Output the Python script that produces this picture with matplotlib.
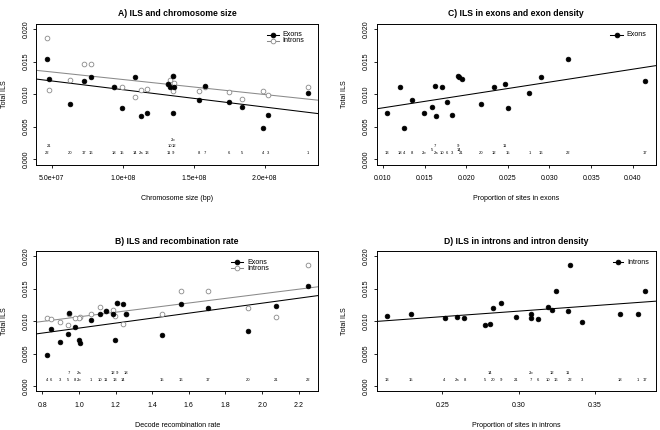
import numpy as np
import matplotlib
matplotlib.use("Agg")
import matplotlib.pyplot as plt

plt.rcParams['font.family'] = ['Liberation Sans', 'DejaVu Sans']

# ---------------- data ----------------
chrom = ["1", "2a", "2b", "3", "4", "5", "6", "7", "8", "9", "10", "11", "12",
         "13", "14", "15", "16", "17", "18", "20", "21", "22"]
chrom_size = [2.303e8, 1.129e8, 1.352e8, 2.0235e8, 1.9906e8, 1.8427e8, 1.7465e8,
              1.5775e8, 1.5376e8, 1.3521e8, 1.3333e8, 1.3216e8, 1.3638e8, 1.1714e8,
              1.0869e8, 0.9953e8, 0.777e8, 0.73e8, 0.939e8, 0.6268e8, 0.4836e8, 0.4648e8]
rec_rate = [1.064, 1.003, 1.0, 0.896, 0.824, 0.942, 0.849, 0.947, 0.98, 1.205, 1.115,
            1.147, 1.185, 1.196, 1.238, 1.456, 1.556, 1.704, 1.258, 1.924, 2.078, 2.249]
exon_prop = [0.0276, 0.01632, 0.01496, 0.01824, 0.01248, 0.01592, 0.01768, 0.0162,
             0.01348, 0.01904, 0.01712, 0.02468, 0.02336, 0.0105, 0.01908, 0.025,
             0.02904, 0.0415, 0.0120, 0.02176, 0.01944, 0.0322]
intron_prop = [0.378, 0.2596, 0.3082, 0.3417, 0.2515, 0.2779, 0.3125, 0.3082, 0.2646,
               0.2883, 0.3195, 0.3322, 0.3217, 0.2139, 0.2816, 0.2295, 0.3243, 0.383,
               0.3665, 0.2833, 0.2986, 0.3339]
exon_ils = [0.01025, 0.00663, 0.00708, 0.00678, 0.00478, 0.00797, 0.00882, 0.0112,
            0.00915, 0.01277, 0.01113, 0.0116, 0.01108, 0.00705, 0.01266, 0.00791,
            0.01268, 0.0120, 0.01105, 0.00852, 0.01226, 0.0154]
intron_ils = [0.0111, 0.01062, 0.01045, 0.0099, 0.0105, 0.00933, 0.01027, 0.01117,
              0.01047, 0.0128, 0.01215, 0.01158, 0.01175, 0.01076, 0.0096, 0.01113,
              0.01464, 0.01464, 0.0111, 0.0121, 0.0106, 0.01866]

# label stacking levels (layout), in units of 0.001 ILS; default 1
levels_A = {"21": 2, "10": 2, "12": 2, "2b": 3}
levels_B = {"7": 2, "2a": 2, "12": 2, "9": 2, "18": 2}
levels_C = {"5": 1.5, "14": 1.5, "7": 2, "9": 2, "11": 2}
levels_D = {"14": 2, "2b": 2, "12": 2, "11": 2}

W, H = 660, 430
fig = plt.figure(figsize=(W / 100, H / 100), dpi=100)

INTRON_COL = "#8a8a8a"
FS_TICK = 5.0
FS_LAB = 5.1
FS_TITLE = 6.2
FS_NUM = 3.0


def fx(px):
    return px / W


def fy(py):
    return 1 - py / H


def make_ax(x0, y0, x1, y1):
    ax = fig.add_axes([fx(x0), fy(y1), (x1 - x0) / W, (y1 - y0) / H])
    for s in ax.spines.values():
        s.set_linewidth(0.7)
    ax.tick_params(direction="out", length=2.5, width=0.6, labelsize=FS_TICK, pad=5)
    ax.tick_params(axis="y", pad=2.5)
    yt = [0.0, 0.005, 0.010, 0.015, 0.020]
    ax.set_yticks(yt)
    ax.set_yticklabels(["%.3f" % v for v in yt], rotation=90, va="center")
    ax.set_ylim(-0.0008, 0.0208)
    return ax


def set_x(ax, x, ticks, labels):
    lo, hi = min(x), max(x)
    pad = 0.04 * (hi - lo)
    ax.set_xlim(lo - pad, hi + pad)
    ax.set_xticks(ticks)
    ax.set_xticklabels(labels)


def fit_line(ax, x, y, color):
    k, b = np.polyfit(np.asarray(x), np.asarray(y), 1)
    xx = np.array(ax.get_xlim())
    ax.plot(xx, k * xx + b, color=color, lw=0.75, zorder=2)


def num_labels(ax, x, levels):
    for xi, c in zip(x, chrom):
        ax.text(xi, levels.get(c, 1) * 0.001, c, fontsize=FS_NUM,
                ha="center", va="center", zorder=5)


def legend(entries, x0, x1, xt, y0, dy=6.0):
    for k, (name, col, filled) in enumerate(entries):
        y = y0 + k * dy
        fig.add_artist(plt.Line2D([fx(x0), fx(x1)], [fy(y), fy(y)], color=col,
                                  lw=0.75, transform=fig.transFigure))
        fig.add_artist(plt.Line2D([fx((x0 + x1) / 2)], [fy(y)], marker="o",
                                  ms=3.4, mfc=col if filled else "white",
                                  mec=col, mew=0.6, transform=fig.transFigure))
        fig.text(fx(xt), fy(y), name, fontsize=FS_LAB, ha="left", va="center")


def texts(x0, y0, x1, y1, title, xlabel, ylab_x):
    cx = (x0 + x1) / 2
    fig.text(fx(cx), fy(y0 - 10), title, fontsize=FS_TITLE, fontweight="bold",
             ha="center", va="center")
    fig.text(fx(cx), fy(y1 + 34), xlabel, fontsize=FS_LAB, ha="center", va="center")
    fig.text(fx(ylab_x), fy((y0 + y1) / 2), "Total ILS", fontsize=FS_LAB,
             rotation=90, ha="center", va="center")


def exon_pts(ax, x, y):
    ax.plot(x, y, "o", ms=3.4, color="black", mec="black", mew=0.5, zorder=4)


def intron_pts(ax, x, y):
    ax.plot(x, y, "o", ms=3.4, mfc="white", mec=INTRON_COL, mew=0.6, zorder=3)


# ---------------- panel A ----------------
A = (36.3, 23.8, 318.1, 164.5)
ax = make_ax(*A)
set_x(ax, chrom_size, [5e7, 1e8, 1.5e8, 2e8], ["5.0e+07", "1.0e+08", "1.5e+08", "2.0e+08"])
fit_line(ax, chrom_size, exon_ils, "black")
fit_line(ax, chrom_size, intron_ils, INTRON_COL)
intron_pts(ax, chrom_size, intron_ils)
exon_pts(ax, chrom_size, exon_ils)
num_labels(ax, chrom_size, levels_A)
texts(*A, "A) ILS and chromosome size", "Chromosome size (bp)", 5)
legend([("Exons", "black", True), ("Introns", INTRON_COL, False)], 266.7, 279.3, 282.7, 35)

# ---------------- panel B ----------------
B = (36.3, 251.1, 318.1, 391.2)
ax = make_ax(*B)
set_x(ax, rec_rate, [0.8, 1.0, 1.2, 1.4, 1.6, 1.8, 2.0, 2.2],
      ["0.8", "1.0", "1.2", "1.4", "1.6", "1.8", "2.0", "2.2"])
fit_line(ax, rec_rate, exon_ils, "black")
fit_line(ax, rec_rate, intron_ils, INTRON_COL)
intron_pts(ax, rec_rate, intron_ils)
exon_pts(ax, rec_rate, exon_ils)
num_labels(ax, rec_rate, levels_B)
texts(*B, "B) ILS and recombination rate", "Decode recombination rate", 5)
legend([("Exons", "black", True), ("Introns", INTRON_COL, False)], 231, 243.3, 247.3, 262.3)

# ---------------- panel C ----------------
C = (376.8, 23.8, 655.5, 164.5)
ax = make_ax(*C)
set_x(ax, exon_prop, [0.010, 0.015, 0.020, 0.025, 0.030, 0.035, 0.040],
      ["0.010", "0.015", "0.020", "0.025", "0.030", "0.035", "0.040"])
fit_line(ax, exon_prop, exon_ils, "black")
exon_pts(ax, exon_prop, exon_ils)
num_labels(ax, exon_prop, levels_C)
texts(*C, "C) ILS in exons and exon density", "Proportion of sites in exons", 345)
legend([("Exons", "black", True)], 610, 623.3, 626, 35)

# ---------------- panel D ----------------
D = (376.8, 251.1, 655.5, 391.2)
ax = make_ax(*D)
set_x(ax, intron_prop, [0.25, 0.30, 0.35], ["0.25", "0.30", "0.35"])
fit_line(ax, intron_prop, intron_ils, "black")
exon_pts(ax, intron_prop, intron_ils)
num_labels(ax, intron_prop, levels_D)
texts(*D, "D) ILS in introns and intron density", "Proportion of sites in introns", 345)
legend([("Introns", "black", True)], 612.7, 623.3, 627.7, 262.3)

fig.savefig("out.png", dpi=100)
